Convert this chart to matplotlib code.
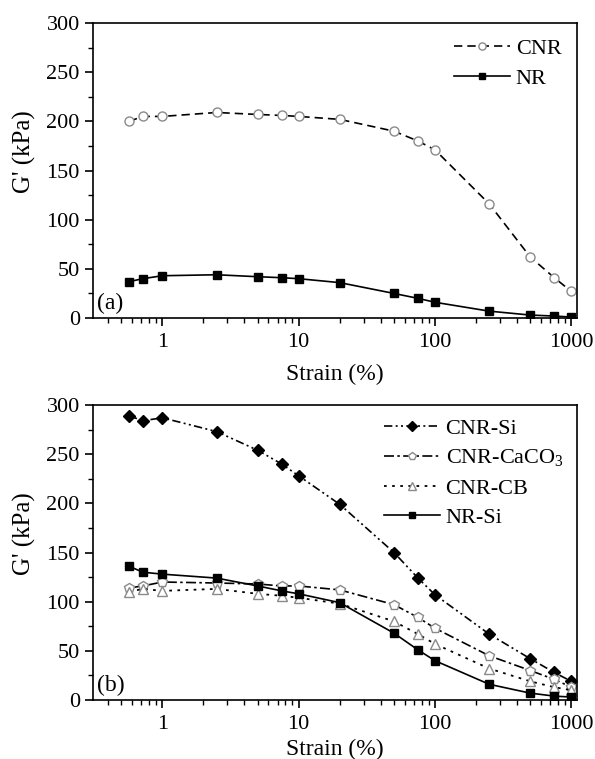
import matplotlib
matplotlib.use("Agg")
import matplotlib.pyplot as plt
from matplotlib.ticker import MultipleLocator, LogLocator, NullFormatter, FixedLocator, FixedFormatter

plt.rcParams['font.family'] = ['Liberation Serif', 'DejaVu Serif']
plt.rcParams['mathtext.fontset'] = 'custom'
plt.rcParams['mathtext.rm'] = 'Liberation Serif'

strain = [0.57, 0.72, 1, 2.5, 5, 7.5, 10, 20, 50, 75, 100, 250, 500, 750, 1000]

cnr = [200, 205, 205, 209, 207, 206, 205, 202, 190, 180, 171, 116, 62, 41, 27]
nr = [37, 40, 43, 44, 42, 41, 40, 36, 25, 20, 16, 7, 3, 2, 1]

cnr_si = [289, 284, 287, 273, 254, 240, 228, 199, 150, 124, 107, 67, 42, 28, 19]
cnr_caco3 = [114, 116, 120, 119, 118, 116, 116, 112, 97, 84, 73, 45, 30, 21, 13]
cnr_cb = [110, 113, 111, 113, 108, 106, 104, 98, 80, 67, 57, 32, 19, 13, 10]
nr_si = [136, 130, 128, 124, 116, 111, 108, 99, 68, 51, 40, 16, 7, 4, 3]

xticks = [1, 10, 100, 1000]
xticklabels = ['1', '10', '100', '1000']

fig = plt.figure(figsize=(5.95, 7.59), dpi=100)
ax1 = fig.add_axes([0.1563, 0.581, 0.8134, 0.3887])
ax2 = fig.add_axes([0.1563, 0.0777, 0.8134, 0.3887])

gray = '#8a8a8a'
tfs = 16
xlfs = 17
ylfs = 18
legfs = 16

ax1.plot(strain, cnr, linestyle=(0, (5, 3)), color='black', lw=1.2, marker='o', ms=6.5,
         mfc='white', mec=gray, mew=1.0, label='CNR')
ax1.plot(strain, nr, linestyle='-', color='black', lw=1.2, marker='s', ms=6,
         mfc='black', mec='black', label='NR')

ax2.plot(strain, cnr_si, linestyle=(0, (5, 2, 1.2, 2, 1.2, 2)), color='black', lw=1.2, marker='D', ms=6,
         mfc='black', mec='black', label='CNR-Si')
ax2.plot(strain, cnr_caco3, linestyle=(0, (6, 2, 1.5, 2)), color='black', lw=1.2, marker='p', ms=7.5,
         mfc='white', mec=gray, mew=1.0, label='CNR-CaCO$_3$')
ax2.plot(strain, cnr_cb, linestyle=(0, (1.5, 3)), color='black', lw=1.3, marker='^', ms=7.5,
         mfc='white', mec=gray, mew=1.0, label='CNR-CB')
ax2.plot(strain, nr_si, linestyle='-', color='black', lw=1.2, marker='s', ms=6,
         mfc='black', mec='black', label='NR-Si')

for ax, lab, xpad, legpad in ((ax1, '(a)', 8, 0.3), (ax2, '(b)', 3, 0.2)):
    ax.set_xscale('log')
    ax.set_xlim(0.31, 1100)
    ax.set_ylim(0, 300)
    ax.xaxis.set_major_locator(FixedLocator(xticks))
    ax.xaxis.set_major_formatter(FixedFormatter(xticklabels))
    ax.xaxis.set_minor_locator(LogLocator(base=10, subs=range(2, 10), numticks=20))
    ax.xaxis.set_minor_formatter(NullFormatter())
    ax.yaxis.set_major_locator(MultipleLocator(50))
    ax.yaxis.set_minor_locator(MultipleLocator(25))
    ax.tick_params(which='both', direction='out', top=False, right=False, labelsize=tfs)
    ax.tick_params(which='major', length=6, width=1.2, pad=3.5)
    ax.tick_params(axis='x', which='major', pad=5)
    ax.tick_params(which='minor', length=3.5, width=1.0)
    for s in ax.spines.values():
        s.set_linewidth(1.2)
    ax.set_xlabel('Strain (%)', fontsize=xlfs, labelpad=xpad)
    ax.set_ylabel("G' (kPa)", fontsize=ylfs)
    ax.yaxis.set_label_coords(-0.118, 0.565)
    ax.text(0.008, 0.012, lab, transform=ax.transAxes, fontsize=17, ha='left', va='bottom')
    ax.legend(loc='upper right', frameon=False, fontsize=legfs, handlelength=2.5,
              handletextpad=0.27, labelspacing=0.4, borderaxespad=legpad, markerscale=0.8)

fig.savefig('out.png', dpi=100)
